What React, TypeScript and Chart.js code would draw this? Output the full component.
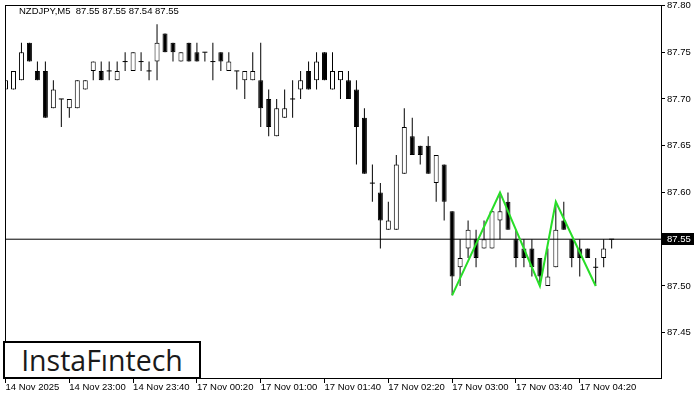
import React, { useEffect, useRef } from "react";
import { Chart, registerables } from "chart.js";

Chart.register(...registerables);

// ---- data (NZDJPY, M5) ----
const symbol = "NZDJPY,M5";

const openV = [
  87.71, 87.71, 87.72, 87.76, 87.73, 87.73, 87.69, 87.70, 87.69, 87.69,
  87.71, 87.73, 87.73, 87.73, 87.72, 87.74, 87.73, 87.74, 87.73, 87.74,
  87.77, 87.76, 87.74, 87.76, 87.75, 87.75, 87.74, 87.75, 87.73, 87.73,
  87.72, 87.72, 87.72, 87.70, 87.66, 87.68, 87.70, 87.71, 87.73, 87.72,
  87.75, 87.71, 87.72, 87.72, 87.71, 87.68, 87.61, 87.60, 87.56, 87.56,
  87.62, 87.66, 87.65, 87.65, 87.61, 87.63, 87.58, 87.52, 87.54, 87.55,
  87.54, 87.54, 87.57, 87.59, 87.55, 87.54, 87.54, 87.53, 87.50, 87.52,
  87.57, 87.55, 87.54, 87.54, 87.52, 87.53, 87.55,
];
const highV = [
  87.72, 87.73, 87.76, 87.76, 87.74, 87.74, 87.72, 87.70, 87.70, 87.72,
  87.72, 87.74, 87.74, 87.74, 87.74, 87.75, 87.75, 87.75, 87.74, 87.78,
  87.77, 87.76, 87.75, 87.76, 87.76, 87.75, 87.76, 87.75, 87.75, 87.73,
  87.73, 87.75, 87.76, 87.71, 87.70, 87.71, 87.72, 87.73, 87.74, 87.75,
  87.75, 87.75, 87.73, 87.73, 87.72, 87.69, 87.63, 87.61, 87.59, 87.64,
  87.69, 87.68, 87.65, 87.66, 87.64, 87.63, 87.58, 87.55, 87.57, 87.56,
  87.57, 87.58, 87.60, 87.60, 87.56, 87.55, 87.55, 87.53, 87.54, 87.59,
  87.59, 87.55, 87.55, 87.54, 87.53, 87.55, 87.55,
];
const lowV = [
  87.69, 87.71, 87.72, 87.74, 87.72, 87.68, 87.69, 87.67, 87.68, 87.69,
  87.71, 87.72, 87.72, 87.72, 87.72, 87.73, 87.73, 87.73, 87.72, 87.72,
  87.75, 87.74, 87.74, 87.74, 87.74, 87.74, 87.72, 87.73, 87.73, 87.71,
  87.70, 87.72, 87.67, 87.66, 87.66, 87.68, 87.68, 87.70, 87.71, 87.71,
  87.72, 87.71, 87.70, 87.70, 87.63, 87.62, 87.59, 87.54, 87.56, 87.56,
  87.62, 87.64, 87.63, 87.62, 87.59, 87.57, 87.49, 87.50, 87.53, 87.52,
  87.54, 87.54, 87.55, 87.56, 87.52, 87.52, 87.51, 87.50, 87.50, 87.52,
  87.56, 87.52, 87.51, 87.53, 87.50, 87.52, 87.54,
];
const closeV = [
  87.72, 87.73, 87.75, 87.74, 87.72, 87.68, 87.71, 87.70, 87.70, 87.72,
  87.72, 87.74, 87.72, 87.73, 87.73, 87.74, 87.75, 87.74, 87.73, 87.76,
  87.75, 87.75, 87.75, 87.74, 87.74, 87.75, 87.74, 87.74, 87.74, 87.73,
  87.73, 87.73, 87.69, 87.67, 87.69, 87.69, 87.70, 87.72, 87.71, 87.74,
  87.72, 87.73, 87.73, 87.70, 87.67, 87.62, 87.61, 87.57, 87.57, 87.63,
  87.67, 87.64, 87.64, 87.62, 87.64, 87.59, 87.51, 87.53, 87.56, 87.53,
  87.55, 87.58, 87.58, 87.56, 87.53, 87.53, 87.52, 87.51, 87.51, 87.56,
  87.56, 87.53, 87.53, 87.53, 87.52, 87.54, 87.55,
];

// triple bottom pattern (candle index, price)
const patternIdx = [56, 62, 67, 69, 74];
const patternVal = [87.49, 87.6, 87.5, 87.59, 87.5];

// axis ticks
const xTickIdx = [0, 8, 16, 24, 32, 40, 48, 56, 64, 72];
const xTickLabels = [
  "14 Nov 2025",
  "14 Nov 23:00",
  "14 Nov 23:40",
  "17 Nov 00:20",
  "17 Nov 01:00",
  "17 Nov 01:40",
  "17 Nov 02:20",
  "17 Nov 03:00",
  "17 Nov 03:40",
  "17 Nov 04:20",
];
const yTicks = [87.45, 87.5, 87.55, 87.6, 87.65, 87.7, 87.75, 87.8];

// ---- view settings ----
const X_MIN = -0.0625;
const X_MAX = 82.1875;
const Y_MIN = 87.4005;
const Y_MAX = 87.8005;
const GREEN = "rgb(40,222,40)";
const FONT = '"Liberation Sans", Arial, sans-serif';

export default function App() {
  const ref = useRef<HTMLCanvasElement | null>(null);

  useEffect(() => {
    if (!ref.current) return;
    const n = closeV.length;
    const last = n - 1;
    const lastClose = closeV[last];

    const bodies: { x: number; y: [number, number] }[] = [];
    const bodyColors: string[] = [];
    const dojis: { x: number; y: number }[] = [];
    const wicks: { x: number; y: [number, number] }[] = [];
    for (let i = 0; i < n; i++) {
      const o = openV[i];
      const c = closeV[i];
      wicks.push({ x: i, y: [lowV[i], highV[i]] });
      if (o === c) {
        dojis.push({ x: i, y: c });
      } else {
        bodies.push({ x: i, y: [Math.min(o, c), Math.max(o, c)] });
        bodyColors.push(c > o ? "#ffffff" : "#000000");
      }
    }

    const framePlugin = {
      id: "frame",
      afterDatasetsDraw(chart: any) {
        const { ctx, chartArea } = chart;
        ctx.save();
        ctx.strokeStyle = "#000";
        ctx.lineWidth = 1;
        ctx.strokeRect(
          chartArea.left + 0.5,
          chartArea.top + 0.5,
          chartArea.right - chartArea.left,
          chartArea.bottom - chartArea.top - 1
        );
        ctx.restore();
      },
      afterDraw(chart: any) {
        const { ctx, chartArea } = chart;
        const ys = chart.scales.y;
        const y = Math.round(ys.getPixelForValue(lastClose));
        ctx.save();
        ctx.fillStyle = "#000";
        ctx.fillRect(chartArea.right + 1, y - 6, 32, 12);
        ctx.fillStyle = "#fff";
        ctx.font = `9.5px ${FONT}`;
        ctx.textBaseline = "middle";
        ctx.textAlign = "left";
        ctx.fillText(lastClose.toFixed(2), chartArea.right + 6, y + 0.5);
        ctx.restore();
      },
    };

    const chart = new Chart(ref.current, {
      type: "bar",
      data: {
        datasets: [
          {
            type: "line",
            label: "pattern",
            data: patternIdx.map((x, k) => ({ x, y: patternVal[k] })),
            borderColor: GREEN,
            borderWidth: 2,
            pointRadius: 0,
            order: 0,
          } as any,
          {
            type: "line",
            label: "bid",
            data: [
              { x: X_MIN, y: lastClose },
              { x: X_MAX, y: lastClose },
            ],
            borderColor: "#000",
            borderWidth: 1,
            pointRadius: 0,
            order: 1,
          } as any,
          {
            type: "line",
            label: "doji",
            data: dojis,
            showLine: false,
            pointStyle: "line",
            pointRadius: 2.5,
            pointBorderWidth: 1,
            pointBorderColor: "#000",
            pointBackgroundColor: "#000",
            order: 2,
            clip: 0,
          } as any,
          {
            type: "bar",
            label: "body",
            data: bodies,
            backgroundColor: bodyColors,
            borderColor: "#000",
            borderWidth: 1,
            borderSkipped: false,
            barThickness: 5,
            grouped: false,
            inflateAmount: 0,
            order: 3,
            clip: 0,
          } as any,
          {
            type: "bar",
            label: "wick",
            data: wicks,
            backgroundColor: "#000",
            borderWidth: 0,
            barThickness: 1,
            grouped: false,
            inflateAmount: 0,
            order: 4,
            clip: 0,
          } as any,
        ],
      },
      options: {
        animation: false,
        responsive: false,
        events: [],
        layout: { padding: { left: 3, top: 3, right: 0, bottom: 0 } },
        plugins: {
          legend: { display: false },
          tooltip: { enabled: false },
          title: { display: false },
        },
        scales: {
          x: {
            type: "linear",
            offset: false,
            min: X_MIN,
            max: X_MAX,
            afterBuildTicks: (s: any) => {
              s.ticks = xTickIdx.map((v) => ({ value: v }));
            },
            afterFit: (s: any) => {
              s.height = 21;
              s.paddingLeft = 0;
              s.paddingRight = 0;
            },
            ticks: {
              callback: (_v: any, i: number) => xTickLabels[i] ?? "",
              align: "start",
              maxRotation: 0,
              minRotation: 0,
              autoSkip: false,
              padding: 0,
              color: "#000",
              font: { family: FONT, size: 9.5, lineHeight: 1 },
            },
            grid: {
              offset: false,
              drawOnChartArea: false,
              drawTicks: true,
              tickLength: 4,
              color: "#000",
            },
            border: { display: false },
          } as any,
          y: {
            type: "linear",
            position: "right",
            min: Y_MIN,
            max: Y_MAX,
            afterBuildTicks: (s: any) => {
              s.ticks = yTicks.map((v) => ({ value: v }));
            },
            afterFit: (s: any) => {
              s.width = 39;
              s.paddingTop = 0;
              s.paddingBottom = 0;
            },
            ticks: {
              callback: (v: any) => Number(v).toFixed(2),
              padding: 2,
              color: "#000",
              font: { family: FONT, size: 9.5, lineHeight: 1 },
            },
            grid: {
              drawOnChartArea: false,
              drawTicks: true,
              tickLength: 4,
              color: "#000",
            },
            border: { display: false },
          } as any,
        },
      },
      plugins: [framePlugin],
    });

    return () => chart.destroy();
  }, []);

  const n = closeV.length - 1;
  const title = `${symbol}  ${openV[n].toFixed(2)} ${highV[n].toFixed(2)} ${lowV[n].toFixed(2)} ${closeV[n].toFixed(2)}`;

  return (
    <div
      style={{
        position: "fixed",
        left: 0,
        top: 0,
        width: 700,
        height: 400,
        background: "#fff",
        overflow: "hidden",
      }}
    >
      <canvas ref={ref} width={700} height={400} style={{ display: "block" }} />
      <div
        style={{
          position: "absolute",
          left: 19,
          top: 5,
          fontFamily: FONT,
          fontSize: 9.5,
          lineHeight: "12px",
          whiteSpace: "pre",
          color: "#000",
        }}
      >
        {title}
      </div>
      <div
        style={{
          position: "absolute",
          left: 3,
          top: 341,
          width: 198,
          height: 38,
          boxSizing: "border-box",
          border: "2px solid #000",
          background: "#fff",
          display: "flex",
          alignItems: "center",
          justifyContent: "center",
          fontFamily: '"Open Sans", sans-serif',
          fontWeight: 500,
          fontSize: 28.5,
          color: "#1a1a1a",
          letterSpacing: 0,
        }}
      >
        InstaFıntech
      </div>
    </div>
  );
}
